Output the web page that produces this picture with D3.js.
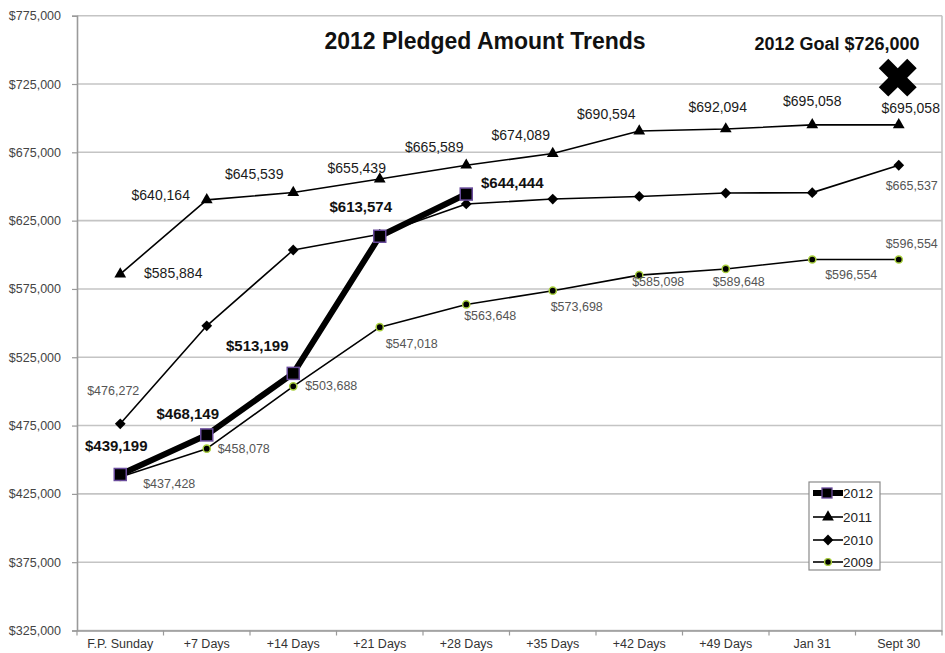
<!DOCTYPE html>
<html><head><meta charset="utf-8">
<script src="https://cdn.jsdelivr.net/npm/d3@7"></script>
<style>
html,body{margin:0;padding:0;background:#fff;}
svg{display:block;}
text{font-family:"Liberation Sans",Arial,sans-serif;}
</style></head>
<body><svg id="chart" width="945" height="653"></svg>
<script>
// ---- data ----
const categories = ["F.P. Sunday","+7 Days","+14 Days","+21 Days","+28 Days","+35 Days","+42 Days","+49 Days","Jan 31","Sept 30"];
const values2012 = [439199, 468149, 513199, 613574, 644444];
const values2011 = [585884, 640164, 645539, 655439, 665589, 674089, 690594, 692094, 695058, 695058];
const values2010 = [476272, 548000, 603500, 615000, 637200, 640800, 642700, 645200, 645500, 665537];
const values2009 = [437428, 458078, 503688, 547018, 563648, 573698, 585098, 589648, 596554, 596554];
const labeled2010 = [0, 9];
const yTicks = [325000, 375000, 425000, 475000, 525000, 575000, 625000, 675000, 725000, 775000];
const goalValue = 726000;
const goalText = "2012 Goal $726,000";
const titleText = "2012 Pledged Amount Trends";
const seriesNames = ["2012","2011","2010","2009"];

// ---- label offsets (presentation) ----
const off2012 = [[-4,-29],[-19,-21],[-36,-28],[-19,-30],[46,-12]];
const off2011 = [[53,-1],[-46,-5],[-39,-19],[-23,-11],[-32,-18],[-32,-19],[-33,-17],[-8,-22],[0,-24],[12,-17]];
const off2010 = {0:[-7,-33], 9:[13,21]};
const off2009 = [[49,7],[37,0],[38,0],[32,17],[24,12],[24,16],[19,7],[13,13],[39,16],[13,-15]];

const svg = d3.select("#chart");
const L = 77, R = 942, T = 15.7, B = 630.5;
const x = d3.scaleBand().domain(categories).range([L, R]);
const cx = c => x(c) + x.bandwidth()/2;
const y = d3.scaleLinear().domain([325000, 775000]).range([B, T]);
const fmt = v => "$" + d3.format(",")(v);

// gridlines
svg.append("g").selectAll("line").data(yTicks).join("line")
  .attr("x1", L).attr("x2", R).attr("y1", d => y(d)).attr("y2", d => y(d))
  .attr("stroke", "#c4c4c4").attr("stroke-width", 1.6);
// right border
svg.append("line").attr("x1", R).attr("x2", R).attr("y1", T).attr("y2", B)
  .attr("stroke", "#c4c4c4").attr("stroke-width", 1.6);

// y axis
const yAxis = svg.append("g").attr("transform", `translate(${L},0)`)
  .call(d3.axisLeft(y).tickValues(yTicks).tickFormat(fmt).tickSize(5).tickPadding(11));
yAxis.select(".domain").attr("stroke", "#9a9a9a").attr("stroke-width", 1.6);
yAxis.selectAll(".tick line").attr("stroke", "#9a9a9a").attr("stroke-width", 1.2);
yAxis.selectAll("text").attr("font-size", 12.5).attr("fill", "#444");

// x axis
const xAxis = svg.append("g").attr("transform", `translate(0,${B})`)
  .call(d3.axisBottom(x).tickSize(0).tickPadding(9));
xAxis.select(".domain").attr("stroke", "#9a9a9a").attr("stroke-width", 1.6);
xAxis.selectAll("text").attr("font-size", 12.5).attr("fill", "#333");
// band boundary ticks
const bounds = categories.map(c => x(c)).concat([R]);
svg.append("g").selectAll("line").data(bounds).join("line")
  .attr("x1", d => d).attr("x2", d => d).attr("y1", B).attr("y2", B + 5)
  .attr("stroke", "#9a9a9a").attr("stroke-width", 1.2);

// lines
const lineGen = d3.line().x(d => cx(d.c)).y(d => y(d.v));
const toPts = arr => arr.map((v, i) => ({c: categories[i], v, i}));
const p2012 = toPts(values2012), p2011 = toPts(values2011), p2010 = toPts(values2010), p2009 = toPts(values2009);

function drawLine(pts, w) {
  svg.append("path").datum(pts).attr("d", lineGen).attr("fill", "none")
    .attr("stroke", "#000").attr("stroke-width", w).attr("stroke-linejoin", "round");
}
drawLine(p2011, 1.6);
drawLine(p2010, 1.6);
drawLine(p2009, 1.6);

// markers
const tri = d3.symbol().type(d3.symbolTriangle).size(60);
const dia = d3.symbol().type(d3.symbolSquare).size(58);
svg.append("g").selectAll("path").data(p2011).join("path")
  .attr("d", tri).attr("transform", d => `translate(${cx(d.c)},${y(d.v)})`).attr("fill", "#000");
svg.append("g").selectAll("path").data(p2010).join("path")
  .attr("d", dia).attr("transform", d => `translate(${cx(d.c)},${y(d.v)}) rotate(45)`).attr("fill", "#000");
svg.append("g").selectAll("circle").data(p2009).join("circle")
  .attr("cx", d => cx(d.c)).attr("cy", d => y(d.v)).attr("r", 3.6)
  .attr("fill", "#000").attr("stroke", "#a8cf3c").attr("stroke-width", 1.5);

drawLine(p2012, 6);
svg.append("g").selectAll("rect").data(p2012).join("rect")
  .attr("x", d => cx(d.c) - 6).attr("y", d => y(d.v) - 6).attr("width", 12).attr("height", 12)
  .attr("fill", "#000").attr("stroke", "#6a4c9c").attr("stroke-width", 1.5);

// data labels
function labels(pts, offs, size, weight, color) {
  svg.append("g").selectAll("text").data(pts.filter(d => offs[d.i])).join("text")
    .attr("x", d => cx(d.c) + offs[d.i][0]).attr("y", d => y(d.v) + offs[d.i][1])
    .attr("text-anchor", "middle").attr("dominant-baseline", "central")
    .attr("font-size", size).attr("font-weight", weight).attr("fill", color)
    .text(d => fmt(d.v));
}
labels(p2011, off2011, 14, "normal", "#1a1a1a");
labels(p2010.filter(d => labeled2010.includes(d.i)), off2010, 12.5, "normal", "#555");
labels(p2009, off2009, 12.5, "normal", "#555");
labels(p2012, off2012, 15, "bold", "#111");

// title
svg.append("text").attr("x", 485).attr("y", 49).attr("text-anchor", "middle")
  .attr("font-size", 23).attr("font-weight", "bold").attr("fill", "#111").text(titleText);

// goal
svg.append("text").attr("x", 837).attr("y", 50).attr("text-anchor", "middle")
  .attr("font-family", "Lato, 'Open Sans', sans-serif")
  .attr("font-size", 18).attr("font-weight", "bold").attr("fill", "#111").text(goalText);
svg.append("path").attr("d", d3.symbol().type(d3.symbolCross).size(900))
  .attr("transform", `translate(${cx(categories[9]) - 1},${y(goalValue) - 5}) rotate(45)`)
  .attr("fill", "#000");

// legend
const lg = svg.append("g").attr("transform", "translate(809,482)");
lg.append("rect").attr("width", 71).attr("height", 88).attr("fill", "#fff")
  .attr("stroke", "#8a8a8a").attr("stroke-width", 1.2);
const legY = [11, 35, 58, 80];
seriesNames.forEach((s, i) => {
  const g = lg.append("g").attr("transform", `translate(0,${legY[i]})`);
  g.append("line").attr("x1", 4).attr("x2", 34).attr("y1", 0).attr("y2", 0)
    .attr("stroke", "#000").attr("stroke-width", i === 0 ? 6 : 1.6);
  if (i === 0) g.append("rect").attr("x", 13).attr("y", -5).attr("width", 10).attr("height", 10)
      .attr("fill", "#000").attr("stroke", "#6a4c9c").attr("stroke-width", 1.3);
  if (i === 1) g.append("path").attr("d", tri).attr("transform", "translate(19,0)");
  if (i === 2) g.append("path").attr("d", dia).attr("transform", "translate(19,0) rotate(45)");
  if (i === 3) g.append("circle").attr("cx", 19).attr("cy", 0).attr("r", 3.4)
      .attr("fill", "#000").attr("stroke", "#a8cf3c").attr("stroke-width", 1.4);
  g.append("text").attr("x", 34).attr("y", 0).attr("dominant-baseline", "central")
    .attr("font-size", 13.5).attr("fill", "#222").text(s);
});
</script></body></html>
